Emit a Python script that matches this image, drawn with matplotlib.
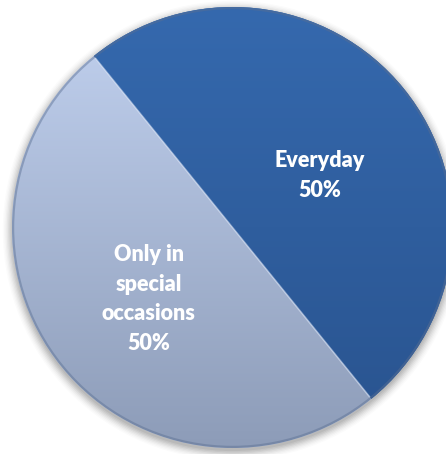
import numpy as np
import matplotlib
matplotlib.use("Agg")
import matplotlib.pyplot as plt
from matplotlib.patches import Circle
from matplotlib.colors import LinearSegmentedColormap

# Survey answers: how often the product is used
categories = ["Everyday", "Only in\nspecial\noccasions"]
shares = [50, 50]
label_xy = [(0.395, 0.235), (-0.38, -0.325)]

top_colors = ["#3569ae", "#c2d2f0"]
bottom_colors = ["#29538e", "#8d9cb8"]

W, H, DPI = 446, 454, 100
R_PX = 220.5
CX, CY = 232.5, 227.5

fig = plt.figure(figsize=(W / DPI, H / DPI), dpi=DPI)
fig.patch.set_facecolor("white")
ax = fig.add_axes([0, 0, 1, 1])

# soft drop shadow under the disc
for i, a in enumerate(np.linspace(0.06, 0.015, 8)):
    ax.add_patch(Circle((0.0, -0.014), 1.0 + 0.006 * i, facecolor="black",
                        edgecolor="none", alpha=a, zorder=0))

wedges, _ = ax.pie(shares, startangle=129, counterclock=False, radius=1.0,
                   colors=top_colors, wedgeprops=dict(linewidth=0),
                   labels=None)

# vertical gradient fill, clipped to each slice
grad = np.linspace(0, 1, 256).reshape(-1, 1)
for w, c0, c1 in zip(wedges, top_colors, bottom_colors):
    cmap = LinearSegmentedColormap.from_list("g", [c0, c1])
    im = ax.imshow(grad, cmap=cmap, extent=(-1, 1, -1, 1), origin="upper",
                   aspect="auto", zorder=2, interpolation="bilinear")
    im.set_clip_path(w)
    w.set_zorder(1)

ax.set_xlim(-CX / R_PX, (W - CX) / R_PX)
ax.set_ylim(-(H - CY) / R_PX, CY / R_PX)
ax.set_aspect("equal")
ax.axis("off")

# bevel: darker rim and a light seam along the cut
ax.add_patch(Circle((0, 0), 0.995, facecolor="none", edgecolor="#5a6f92",
                    linewidth=1.6, alpha=0.45, zorder=3))
theta = np.deg2rad(129)
ax.plot([np.cos(theta) * 0.99, -np.cos(theta) * 0.99],
        [np.sin(theta) * 0.99, -np.sin(theta) * 0.99],
        color="#dfe8f8", linewidth=1.2, alpha=0.55, zorder=3,
        solid_capstyle="butt")

for (x, y), name, v in zip(label_xy, categories, shares):
    ax.text(x, y, f"{name}\n{v}%", ha="center", va="center", color="white",
            fontsize=15.5, fontweight="heavy", family=["Lato", "DejaVu Sans"],
            linespacing=1.5, zorder=5)

fig.savefig("out.png", dpi=DPI, facecolor="white")
